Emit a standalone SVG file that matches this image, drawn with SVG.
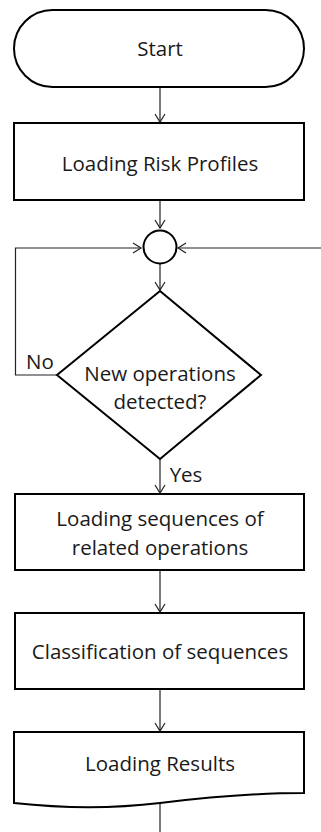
<svg xmlns="http://www.w3.org/2000/svg" width="321" height="832" viewBox="0 0 321 832">
<style>
.shape{fill:#fff;stroke:#000;stroke-width:2}
.conn{fill:none;stroke:#222;stroke-width:1.2}
text{font-family:"Open Sans","Liberation Sans",sans-serif;font-size:20.5px;fill:#1a1a1a;text-anchor:middle}
</style>
<defs>
<marker id="arr" markerWidth="12" markerHeight="12" refX="10" refY="6" orient="auto" markerUnits="userSpaceOnUse">
<path d="M2,1 L10,6 L2,11" fill="none" stroke="#222" stroke-width="1.2"/>
</marker>
</defs>
<g id="connectors">
<line class="conn" x1="160" y1="87" x2="160" y2="122" marker-end="url(#arr)"/>
<line class="conn" x1="160" y1="200" x2="160" y2="228" marker-end="url(#arr)"/>
<polyline class="conn" points="57,375 15.5,375 15.5,248 141,248" marker-end="url(#arr)"/>
<line class="conn" x1="321" y1="248" x2="178" y2="248" marker-end="url(#arr)"/>
<line class="conn" x1="160" y1="264" x2="160" y2="290" marker-end="url(#arr)"/>
<line class="conn" x1="160" y1="459" x2="160" y2="493" marker-end="url(#arr)"/>
<line class="conn" x1="160" y1="570" x2="160" y2="612" marker-end="url(#arr)"/>
<line class="conn" x1="160" y1="689" x2="160" y2="731" marker-end="url(#arr)"/>
<line class="conn" x1="160" y1="803" x2="160" y2="832"/>
<text x="40" y="369">No</text>
<text x="186" y="482">Yes</text>
</g>
<g id="start">
<rect class="shape" x="14" y="10" width="290" height="77" rx="38.5" ry="38.5"/>
<text x="160" y="56">Start</text>
</g>
<g id="risk">
<rect class="shape" x="14" y="123" width="290" height="77"/>
<text x="160" y="171">Loading Risk Profiles</text>
</g>
<g id="junction">
<circle class="shape" cx="160" cy="247" r="16.5"/>
</g>
<g id="decision">
<polygon class="shape" points="160,291 261,375 160,459 57,375"/>
<text x="160" y="381">New operations</text>
<text x="160" y="409">detected?</text>
</g>
<g id="sequences">
<rect class="shape" x="15" y="494" width="289" height="76"/>
<text x="160" y="526">Loading sequences  of</text>
<text x="160" y="555">related operations</text>
</g>
<g id="classification">
<rect class="shape" x="15" y="613" width="289" height="76"/>
<text x="160" y="659">Classification of sequences</text>
</g>
<g id="results">
<path class="shape" d="M14,732 L304,732 L304,793 C260,793 210,797 160,803 C110,809 60,808 14,803 Z"/>
<text x="160" y="771">Loading Results</text>
</g>
</svg>
